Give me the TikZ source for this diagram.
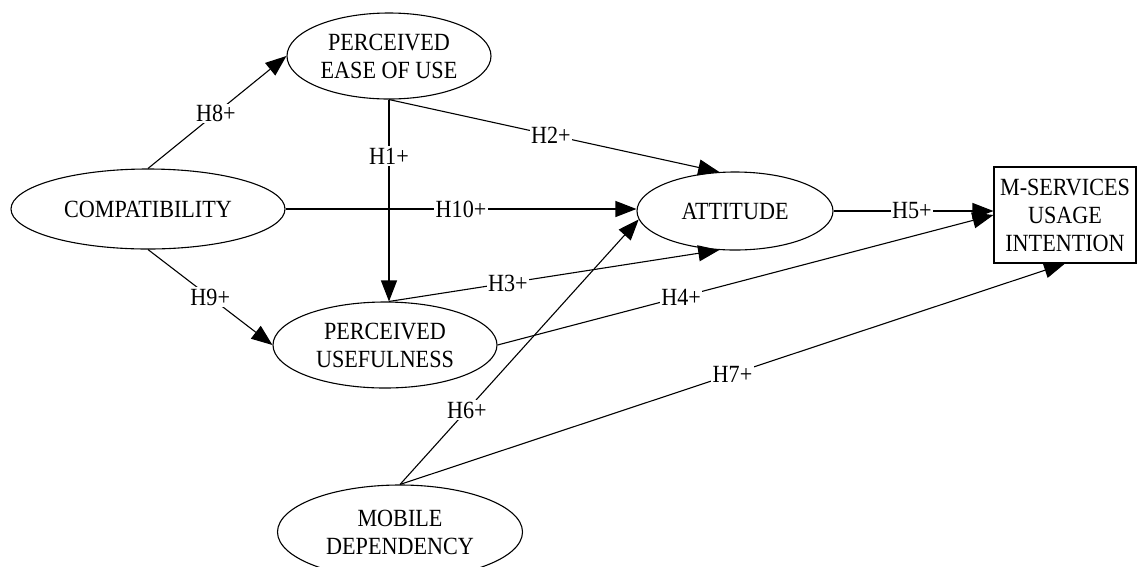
\documentclass[tikz,border=0pt]{standalone}
\usepackage{fontspec}
\setmainfont{Liberation Serif}
\usetikzlibrary{shapes.geometric,arrows.meta,calc}
\newcommand\vs[1]{\scalebox{1.03}[1.15]{#1}}
\begin{document}
\begin{tikzpicture}[x=1pt,y=-1pt,
  every node/.style={font=\fontsize{21.5}{28}\selectfont, align=center},
  ell/.style={draw, ellipse, line width=1.1pt, inner sep=0pt},
  boxnode/.style={draw, rectangle, line width=1.1pt, inner sep=0pt, minimum width=142pt, minimum height=96pt},
  arr/.style={line width=1.1pt, -{Triangle[length=21pt,width=16pt]}},
  lbl/.style={fill=white, inner sep=1.5pt}]
\useasboundingbox (0,0) rectangle (1138,566);
\node[ell, minimum width=204pt, minimum height=86pt] (peou) at (389,56) {\vs{PERCEIVED}\\\vs{EASE OF USE}};
\node[ell, minimum width=274pt, minimum height=80pt] (compat) at (148,209) {\vs{COMPATIBILITY}};
\node[ell, minimum width=196pt, minimum height=78pt] (att) at (735,211) {\vs{ATTITUDE}};
\node[boxnode] (box) at (1065,215) {\vs{M-SERVICES}\\\vs{USAGE}\\\vs{INTENTION}};
\node[ell, minimum width=224pt, minimum height=86pt] (pu) at (385,345) {\vs{PERCEIVED}\\\vs{USEFULNESS}};
\node[ell, minimum width=245pt, minimum height=94pt] (md) at (400,532) {\vs{MOBILE}\\\vs{DEPENDENCY}};
\coordinate (putop) at (peou.south |- pu.north);
\draw[arr] (compat.north) -- node[lbl,pos=0.49]{\vs{H8+}} (peou.west);
\draw[arr] (compat.south) -- node[lbl,pos=0.5]{\vs{H9+}} (pu.west);
\draw[arr] (compat.east) -- node[lbl,pos=0.5]{\vs{H10+}} (compat.east -| att.west);
\draw[arr] (peou.south) -- node[lbl,pos=0.28]{\vs{H1+}} (putop);
\draw[arr] (peou.south) -- node[lbl,pos=0.49]{\vs{H2+}} (att.112);
\draw[arr] (putop) -- node[lbl,pos=0.36]{\vs{H3+}} (att.248);
\draw[arr] (pu.east) -- node[lbl,pos=0.37]{\vs{H4+}} (box.west);
\draw[arr] (att.east) -- node[lbl,pos=0.49]{\vs{H5+}} (att.east -| box.west);
\draw[arr] (md.north) -- node[lbl,pos=0.28]{\vs{H6+}} (att.185);
\draw[arr] (md.north) -- node[lbl,pos=0.5]{\vs{H7+}} (box.south);
\end{tikzpicture}
\end{document}
